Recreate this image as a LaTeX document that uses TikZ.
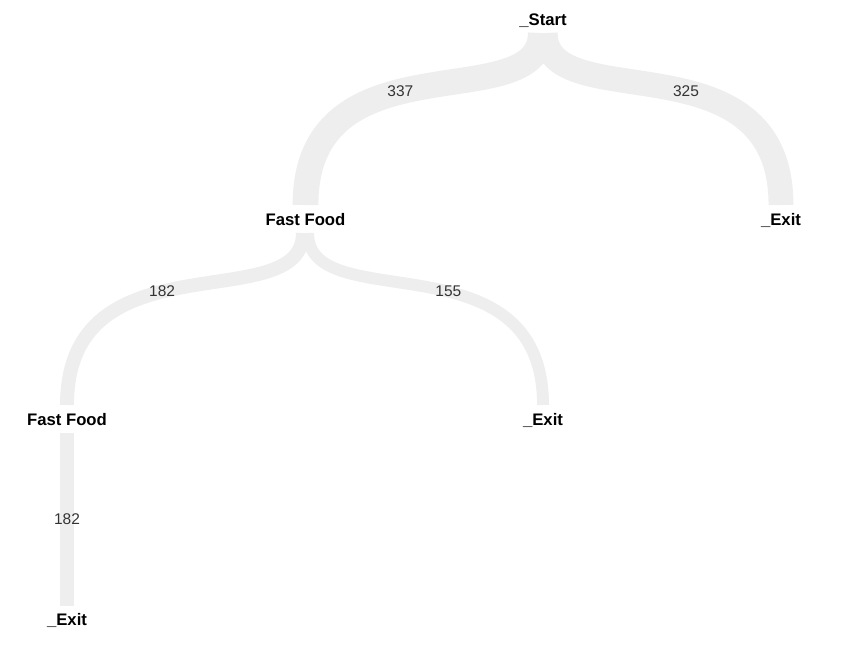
\documentclass[tikz,border=0pt]{standalone}
\usepackage{fontspec}
\setmainfont{Liberation Sans}
\usetikzlibrary{calc}
\definecolor{ribbon}{RGB}{238,238,238}
\definecolor{numc}{RGB}{51,51,51}
\begin{document}
\begin{tikzpicture}[x=1pt,y=-1pt,
  lbl/.style={font=\fontsize{16.7}{19}\selectfont\bfseries, anchor=base, inner sep=0pt},
  cnt/.style={font=\fontsize{15.5}{17}\selectfont, text=numc, inner sep=0pt},
  flow/.style={draw=ribbon, line cap=butt}]
\useasboundingbox (0,0) rectangle (857,648);
% node labels
\node[lbl] (start) at (543,25.5) {\_Start};
\node[lbl] (ff1) at (305.5,225.5) {Fast Food};
\node[lbl] (ex1) at (781,225.5) {\_Exit};
\node[lbl] (ff2) at (67,425.5) {Fast Food};
\node[lbl] (ex2) at (543,425.5) {\_Exit};
\node[lbl] (ex3) at (67,625.5) {\_Exit};
% endpoints
\coordinate (sA) at ([xshift=-2.2pt,yshift=-7.5pt]start.base);
\coordinate (sB) at ([xshift=2.2pt,yshift=-7.5pt]start.base);
\coordinate (eA) at ([yshift=20.5pt]ff1.base);
\coordinate (eB) at ([yshift=20.5pt]ex1.base);
\coordinate (sC) at ([xshift=-2.6pt,yshift=-7.5pt]ff1.base);
\coordinate (sD) at ([xshift=2.6pt,yshift=-7.5pt]ff1.base);
\coordinate (eC) at ([yshift=20.5pt]ff2.base);
\coordinate (eD) at ([yshift=20.5pt]ex2.base);
\coordinate (sE) at ([yshift=-7.5pt]ff2.base);
\coordinate (eE) at ([yshift=20pt]ex3.base);
% ribbons
\draw[flow, line width=25.8pt] (sA) .. controls ($(sA)!0.5!(sA|-eA)$) and (eA|-sA) .. node[cnt,pos=0.565]{337} (eA);
\draw[flow, line width=24.9pt] (sB) .. controls ($(sB)!0.5!(sB|-eB)$) and (eB|-sB) .. node[cnt,pos=0.565]{325} (eB);
\draw[flow, line width=13.9pt] (sC) .. controls ($(sC)!0.5!(sC|-eC)$) and (eC|-sC) .. node[cnt,pos=0.565]{182} (eC);
\draw[flow, line width=11.9pt] (sD) .. controls ($(sD)!0.5!(sD|-eD)$) and (eD|-sD) .. node[cnt,pos=0.565]{155} (eD);
\draw[flow, line width=13.9pt] (sE) -- node[cnt,pos=0.5]{182} (eE);
\end{tikzpicture}
\end{document}
